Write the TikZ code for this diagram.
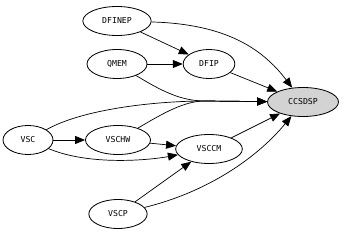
\documentclass[tikz,border=0pt]{standalone}
\usepackage{fontspec}
\setmonofont{DejaVu Sans Mono}
\usepackage{xcolor}
\usepackage{tikz}
\usetikzlibrary{shapes.geometric,arrows.meta}
\definecolor{rootgray}{HTML}{D3D3D3}

\begin{document}
\begin{tikzpicture}[
  x=0.03cm, y=-0.03cm,
  modul/.style={draw, ellipse, inner sep=0pt, minimum height=0.87cm, font=\ttfamily\fontsize{7}{8}\selectfont, line width=0.7pt},
  rootmod/.style={modul, fill=rootgray},
  dep/.style={-{Triangle[length=0.3cm, width=0.24cm]}, line width=0.6pt},
]
  \useasboundingbox (0,0) rectangle (344,233);

  % Modules
  \node[modul, minimum width=2.05cm] (dfinep) at (117, 21) {DFINEP};
  \node[modul, minimum width=1.8cm] (qmem) at (117, 64) {QMEM};
  \node[modul, minimum width=1.55cm] (dfip) at (209, 64) {DFIP};
  \node[rootmod, minimum width=2.13cm] (ccsdsp) at (303, 102) {CCSDSP};
  \node[modul, minimum width=1.5cm] (vsc) at (28, 140) {VSC};
  \node[modul, minimum width=1.95cm] (vschw) at (118, 140) {VSCHW};
  \node[modul, minimum width=2cm] (vsccm) at (209, 149) {VSCCM};
  \node[modul, minimum width=1.75cm] (vscp) at (118, 214) {VSCP};

  % Join point of the edges entering CCSDSP from the left
  \coordinate (join) at (205, 101);

  % Straight dependencies
  \draw[dep] (dfinep) -- (dfip);
  \draw[dep] (qmem) -- (dfip);
  \draw[dep] (dfip) -- (ccsdsp);
  \draw[dep] (vsc) -- (vschw);
  \draw[dep] (vschw) -- (vsccm);
  \draw[dep] (vscp) -- (vsccm);
  \draw[dep] (vsccm) -- (ccsdsp);

  % Curved dependencies
  \draw[dep] (dfinep) .. controls (225,24) and (262,48) .. (ccsdsp);
  \draw[dep] (qmem) .. controls (160,90) and (180,101) .. (join) -- (ccsdsp);
  \draw[dep] (vsc) .. controls (85,108) and (160,101) .. (join) -- (ccsdsp);
  \draw[dep] (vschw) .. controls (165,112) and (185,101) .. (join) -- (ccsdsp);
  \draw[dep] (vsc) .. controls (90,166) and (150,160) .. (vsccm);
  \draw[dep] (vscp) .. controls (215,190) and (262,152) .. (ccsdsp);

\end{tikzpicture}
\end{document}
